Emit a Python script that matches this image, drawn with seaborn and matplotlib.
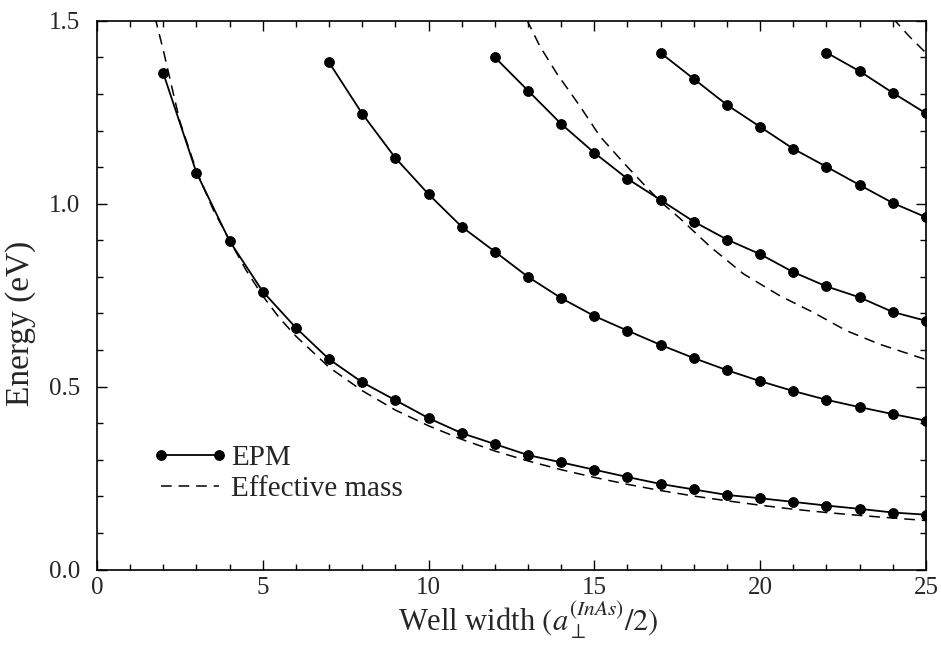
import numpy as np
import pandas as pd
import matplotlib
matplotlib.use("Agg")
import matplotlib.pyplot as plt
import seaborn as sns
from matplotlib.ticker import MultipleLocator, FormatStrFormatter

# ---- data ----
epm1_x = list(range(2, 26))
epm1_y = [1.357, 1.085, 0.898, 0.760, 0.661, 0.575, 0.512, 0.463, 0.414, 0.373,
          0.343, 0.313, 0.293, 0.273, 0.253, 0.234, 0.219, 0.204, 0.195, 0.185,
          0.175, 0.166, 0.156, 0.150]
epm2_x = list(range(7, 26))
epm2_y = [1.386, 1.246, 1.125, 1.026, 0.937, 0.869, 0.800, 0.742, 0.693, 0.653,
          0.614, 0.578, 0.545, 0.515, 0.488, 0.464, 0.444, 0.425, 0.407]
epm3_x = list(range(12, 26))
epm3_y = [1.400, 1.309, 1.218, 1.139, 1.068, 1.010, 0.951, 0.902, 0.862, 0.813,
          0.774, 0.744, 0.704, 0.680]
epm4_x = list(range(17, 26))
epm4_y = [1.412, 1.341, 1.270, 1.210, 1.150, 1.101, 1.051, 1.002, 0.963]
epm5_x = list(range(22, 26))
epm5_y = [1.413, 1.362, 1.303, 1.247]

em1_x = [1.75, 2.0, 2.5, 3.0, 3.5, 4.0, 4.5, 5.0, 5.5, 6, 7, 8, 9, 10, 11, 12, 13,
         14, 15, 16, 17, 18, 19, 20, 21, 22, 23, 24, 25]
em1_y = [1.51, 1.42, 1.225, 1.09, 0.985, 0.900, 0.818, 0.748, 0.688, 0.638, 0.553,
         0.489, 0.436, 0.393, 0.356, 0.324, 0.297, 0.273, 0.252, 0.233, 0.216,
         0.201, 0.188, 0.176, 0.165, 0.156, 0.148, 0.141, 0.134]
em2_x = [12.96, 13.36, 13.86, 14.57, 15.17, 15.9, 16.5, 17.0, 17.58, 18.5, 19.5,
         20.6, 21.6, 22.6, 23.6, 24.6, 25.0]
em2_y = [1.503, 1.430, 1.357, 1.266, 1.184, 1.110, 1.052, 1.005, 0.960, 0.882,
         0.808, 0.748, 0.703, 0.653, 0.616, 0.586, 0.574]
em3_x = [24.0, 24.5, 25.0]
em3_y = [1.507, 1.457, 1.412]

xticks = [0, 5, 10, 15, 20, 25]
yticks = [0.0, 0.5, 1.0, 1.5]

# ---- style ----
sns.set_style("ticks")
plt.rcParams["font.family"] = ["Liberation Serif", "DejaVu Serif"]
plt.rcParams["mathtext.fontset"] = "stix"

fig = plt.figure(figsize=(9.41, 6.48), dpi=100)
ax = fig.add_axes([0.103, 0.121, 0.881, 0.847])

epm_sets = [(epm1_x, epm1_y), (epm2_x, epm2_y), (epm3_x, epm3_y),
            (epm4_x, epm4_y), (epm5_x, epm5_y)]
em_sets = [(em1_x, em1_y), (em2_x, em2_y), (em3_x, em3_y)]

for i, (xs, ys) in enumerate(epm_sets):
    df = pd.DataFrame({"x": xs, "y": ys})
    sns.lineplot(data=df, x="x", y="y", ax=ax, color="black", lw=1.3,
                 marker="o", markersize=7, markeredgecolor="black",
                 markerfacecolor="black", sort=False,
                 label="EPM" if i == 0 else None, legend=False)
for i, (xs, ys) in enumerate(em_sets):
    df = pd.DataFrame({"x": xs, "y": ys})
    sns.lineplot(data=df, x="x", y="y", ax=ax, color="black", lw=1.1,
                 sort=False, label="Effective mass" if i == 0 else None,
                 legend=False)
for ln in ax.lines[len(epm_sets):]:
    ln.set_dashes([7, 4.5])

ax.set_xlim(0, 25)
ax.set_ylim(0, 1.5)
ax.set_xticks(xticks)
ax.set_yticks(yticks)
ax.yaxis.set_major_formatter(FormatStrFormatter("%.1f"))
ax.xaxis.set_minor_locator(MultipleLocator(1))
ax.yaxis.set_minor_locator(MultipleLocator(0.1))
ax.tick_params(which="both", direction="in", top=True, right=True,
               color="black", width=1.0)
ax.tick_params(which="major", length=7, labelsize=18)
ax.tick_params(axis="y", which="major", pad=12)
ax.tick_params(axis="x", which="major", pad=5)
ax.tick_params(which="minor", length=4)
for s in ax.spines.values():
    s.set_linewidth(1.2)
    s.set_color("black")

ax.set_xlabel(r"Well width $(a_{\perp}^{(InAs)}/2)$", fontsize=22, labelpad=1)
ax.set_ylabel("Energy (eV)", fontsize=24)
ax.yaxis.set_label_coords(-0.073, 0.449)
ax.xaxis.label.set_x(0.52)

handles = [ax.lines[0], ax.lines[len(epm_sets)]]
leg = ax.legend(handles, ["EPM", "Effective mass"], loc="center left",
                bbox_to_anchor=(0.035, 0.175), frameon=False, numpoints=2,
                fontsize=21, handlelength=2.6, handletextpad=0.1,
                labelspacing=0.15)

fig.savefig("out.png", dpi=100)
